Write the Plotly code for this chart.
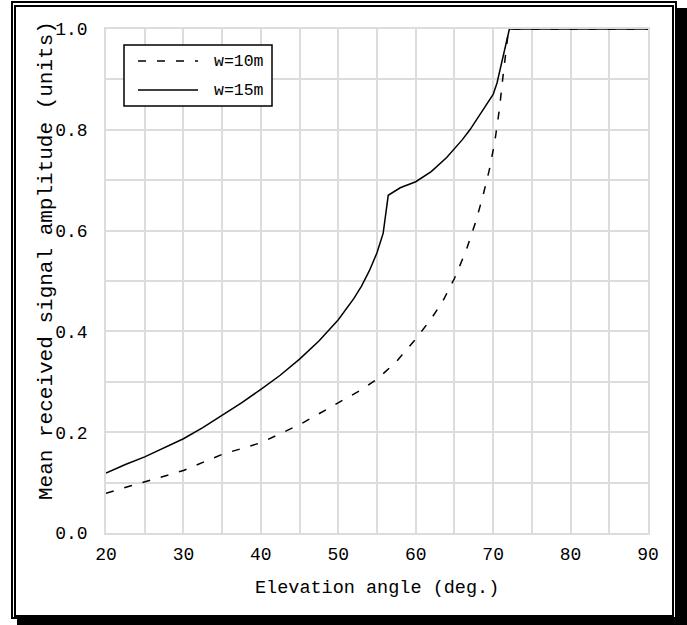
import plotly.graph_objects as go

# ---------------- data ----------------
series_names = ["w=10m", "w=15m"]

angle_w10 = [20, 25, 30, 35, 40, 45, 50, 52.5, 55, 57.5, 60, 62, 63.5, 65, 66.5,
             67.8, 68.7, 69.5, 70.2, 70.8, 71.3, 71.7, 72.0, 90]
amp_w10 = [0.079, 0.102, 0.124, 0.156, 0.179, 0.215, 0.258, 0.28, 0.305, 0.34, 0.385,
           0.425, 0.46, 0.505, 0.56, 0.62, 0.67, 0.72, 0.775, 0.84, 0.91, 0.96, 1.0,
           1.0]

angle_w15 = [20, 22.5, 25, 27.5, 30, 32.5, 35, 37.5, 40, 42.5, 45, 47.5, 50, 51, 52,
             53, 54, 55, 55.8, 56.45, 58, 60, 62, 64, 65, 66, 67, 68, 69, 70, 70.5,
             71, 71.5, 72.1, 90]
amp_w15 = [0.119, 0.136, 0.151, 0.169, 0.187, 0.209, 0.233, 0.258, 0.285, 0.313,
           0.345, 0.381, 0.423, 0.443, 0.465, 0.49, 0.52, 0.556, 0.595, 0.67, 0.685,
           0.697, 0.717, 0.745, 0.762, 0.78, 0.80, 0.823, 0.845, 0.87, 0.893, 0.925,
           0.962, 1.0, 1.0]

x_ticks = [20, 30, 40, 50, 60, 70, 80, 90]
y_ticks = [0.0, 0.2, 0.4, 0.6, 0.8, 1.0]
x_title = "Elevation angle (deg.)"
y_title = "Mean received signal amplitude (units)"

# ---------------- layout helpers ----------------
W, H = 687, 625
PL, PR, PT, PB = 106, 648, 29, 533  # plot area in pixels


def px_x(p):
    return (p - PL) / (PR - PL)


def px_y(p):
    return (PB - p) / (PB - PT)


FONT = "Liberation Mono, DejaVu Sans Mono, monospace"
FS = 18
GRID = "#dcdcdc"
DASH = "8px,11px"

fig = go.Figure()
fig.add_trace(go.Scatter(x=angle_w10, y=amp_w10, mode="lines", name=series_names[0],
                         line=dict(color="black", width=1.5, dash=DASH),
                         cliponaxis=False, showlegend=False))
fig.add_trace(go.Scatter(x=angle_w15, y=amp_w15, mode="lines", name=series_names[1],
                         line=dict(color="black", width=1.5),
                         cliponaxis=False, showlegend=False))

shapes = [
    # drop shadow
    dict(type="rect", xref="paper", yref="paper", layer="below",
         x0=px_x(17), x1=px_x(688), y0=px_y(8), y1=px_y(626),
         fillcolor="black", line=dict(width=0)),
    # outer frame
    dict(type="rect", xref="paper", yref="paper", layer="below",
         x0=px_x(12), x1=px_x(676), y0=px_y(2), y1=px_y(618),
         fillcolor="white", line=dict(color="black", width=2)),
    # inner frame
    dict(type="rect", xref="paper", yref="paper", layer="below",
         x0=px_x(15), x1=px_x(673), y0=px_y(6), y1=px_y(616),
         line=dict(color="black", width=2)),
    # legend box
    dict(type="rect", xref="paper", yref="paper", layer="above",
         x0=px_x(124), x1=px_x(272), y0=px_y(45), y1=px_y(106),
         fillcolor="white", line=dict(color="black", width=1.5)),
    dict(type="line", xref="paper", yref="paper", layer="above",
         x0=px_x(138), x1=px_x(198), y0=px_y(61), y1=px_y(61),
         line=dict(color="black", width=1.5, dash=DASH)),
    dict(type="line", xref="paper", yref="paper", layer="above",
         x0=px_x(138), x1=px_x(198), y0=px_y(90), y1=px_y(90),
         line=dict(color="black", width=1.5)),
]

annotations = [
    dict(text=series_names[0], xref="paper", yref="paper", x=px_x(212), y=px_y(61),
         xanchor="left", yanchor="middle", showarrow=False,
         font=dict(family=FONT, size=16.5, color="black")),
    dict(text=series_names[1], xref="paper", yref="paper", x=px_x(212), y=px_y(90),
         xanchor="left", yanchor="middle", showarrow=False,
         font=dict(family=FONT, size=16.5, color="black")),
    dict(text=x_title, xref="paper", yref="paper", x=0.5, y=px_y(588),
         xanchor="center", yanchor="middle", showarrow=False,
         font=dict(family=FONT, size=18.5, color="black")),
    dict(text=y_title, xref="paper", yref="paper", x=px_x(46), y=px_y(261),
         xanchor="center", yanchor="middle", textangle=-90, showarrow=False,
         font=dict(family=FONT, size=21, color="black")),
]

axis_common = dict(showgrid=True, gridcolor=GRID, gridwidth=1.5,
                   showline=True, linecolor=GRID, linewidth=1.5, mirror=True,
                   zeroline=False, ticks="", color="black",
                   tickfont=dict(family=FONT, size=FS, color="black"))

fig.update_layout(
    width=W, height=H,
    margin=dict(l=PL, r=W - PR, t=PT, b=H - PB, pad=0),
    paper_bgcolor="white", plot_bgcolor="rgba(0,0,0,0)",
    showlegend=False,
    shapes=shapes, annotations=annotations,
    xaxis=dict(range=[20, 90], tickvals=x_ticks, ticklabelstandoff=4,
               minor=dict(dtick=5, showgrid=True, gridcolor=GRID, gridwidth=1.5),
               **axis_common),
    yaxis=dict(range=[0, 1], tickvals=y_ticks, tickformat=".1f", ticklabelstandoff=13,
               minor=dict(dtick=0.1, showgrid=True, gridcolor=GRID, gridwidth=1.5),
               **axis_common),
)

fig.write_html("out.html")
